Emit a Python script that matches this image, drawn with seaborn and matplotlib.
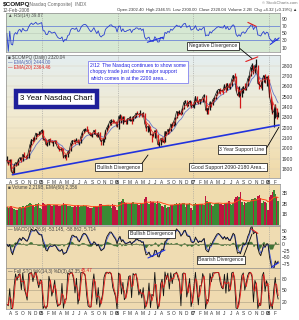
import numpy as np
import pandas as pd
import matplotlib
matplotlib.use('Agg')
import matplotlib.pyplot as plt
from matplotlib.lines import Line2D
import seaborn as sns

W, H = 299, 320

# weekly Nasdaq Composite bars, Jul 2004 - Feb 2008
close = [1883, 1849, 1887, 1777, 1757, 1838, 1862, 1844, 1894, 1910, 1879, 1942, 1919, 1911, 1915, 1975,
         2038, 2085, 2070, 2102, 2148, 2129, 2135, 2154, 2175,
         2088, 2087, 2034, 2035, 2086, 2076, 2058, 2065, 2071, 2041, 2007, 1990, 1985, 1999, 1909, 1932,
         1921, 1967, 1977, 2046, 2075, 2071, 2064, 2090, 2053, 2057, 2112, 2156, 2179, 2185, 2177, 2157,
         2136, 2120, 2141, 2175, 2146, 2116, 2151, 2090, 2064, 2082, 2089, 2169, 2202, 2227, 2263, 2273,
         2257, 2253, 2250, 2205,
         2305, 2317, 2247, 2304, 2262, 2261, 2282, 2287, 2302, 2262, 2306, 2312, 2340, 2339, 2326, 2342,
         2323, 2343, 2243, 2193, 2210, 2219, 2135, 2129, 2121, 2172, 2130, 2037, 2039, 2094, 2086, 2057,
         2163, 2141, 2184, 2165, 2236, 2218, 2258, 2299, 2357, 2342, 2351, 2330, 2390, 2445, 2460, 2413,
         2438, 2457, 2401, 2415,
         2434, 2502, 2451, 2435, 2475, 2459, 2496, 2515, 2368, 2387, 2372, 2448, 2421, 2471, 2491, 2526,
         2557, 2572, 2562, 2559, 2557, 2613, 2573, 2626, 2588, 2603, 2666, 2707, 2688, 2562, 2511, 2544,
         2505, 2577, 2596, 2566, 2602, 2671, 2701, 2780, 2806, 2726, 2804, 2810, 2627, 2619, 2596, 2661,
         2706, 2636, 2691, 2674,
         2504, 2440, 2340, 2360, 2414, 2304, 2320]
high = [1930, 1890, 1892, 1895, 1795, 1845, 1870, 1870, 1900, 1915, 1915, 1945, 1960, 1935, 1940, 1980,
        2045, 2090, 2105, 2105, 2150, 2150, 2165, 2160, 2190,
        2180, 2100, 2095, 2060, 2090, 2100, 2085, 2070, 2080, 2085, 2040, 2010, 2010, 2005, 2000, 1950,
        1935, 1970, 1985, 2050, 2080, 2095, 2080, 2100, 2095, 2070, 2115, 2160, 2185, 2195, 2220, 2185,
        2160, 2145, 2150, 2180, 2185, 2150, 2155, 2160, 2095, 2100, 2100, 2175, 2205, 2235, 2265, 2280,
        2280, 2275, 2260, 2255,
        2310, 2330, 2325, 2310, 2315, 2275, 2290, 2295, 2310, 2300, 2310, 2320, 2345, 2360, 2340, 2375,
        2345, 2350, 2345, 2245, 2215, 2225, 2220, 2145, 2145, 2175, 2190, 2135, 2065, 2100, 2105, 2095,
        2165, 2165, 2190, 2195, 2240, 2250, 2265, 2305, 2360, 2365, 2375, 2365, 2395, 2450, 2470, 2465,
        2450, 2470, 2460, 2430,
        2455, 2505, 2505, 2465, 2480, 2480, 2500, 2530, 2520, 2395, 2400, 2455, 2450, 2475, 2495, 2530,
        2560, 2575, 2580, 2575, 2565, 2620, 2630, 2630, 2635, 2615, 2670, 2710, 2725, 2695, 2590, 2600,
        2560, 2580, 2605, 2630, 2605, 2685, 2705, 2785, 2830, 2810, 2810, 2861, 2810, 2655, 2640, 2675,
        2710, 2720, 2695, 2710,
        2670, 2505, 2455, 2390, 2425, 2395, 2347]
low = [1875, 1840, 1835, 1776, 1750, 1760, 1830, 1838, 1840, 1885, 1870, 1875, 1915, 1900, 1905, 1910,
       1975, 2030, 2065, 2070, 2095, 2115, 2130, 2135, 2150,
       2085, 2075, 2030, 2025, 2035, 2065, 2050, 2025, 2050, 2040, 2000, 1975, 1975, 1980, 1905, 1905,
       1890, 1915, 1955, 1975, 2040, 2065, 2045, 2060, 2050, 2035, 2050, 2110, 2150, 2165, 2170, 2150,
       2130, 2115, 2105, 2140, 2140, 2105, 2110, 2085, 2035, 2030, 2060, 2090, 2165, 2195, 2225, 2230,
       2245, 2245, 2235, 2205,
       2190, 2295, 2245, 2240, 2255, 2235, 2240, 2270, 2265, 2240, 2260, 2295, 2305, 2330, 2305, 2320,
       2300, 2315, 2240, 2170, 2160, 2165, 2130, 2065, 2110, 2100, 2125, 2035, 2012, 2030, 2060, 2050,
       2060, 2130, 2135, 2150, 2165, 2205, 2215, 2230, 2290, 2325, 2335, 2325, 2330, 2385, 2440, 2400,
       2410, 2430, 2395, 2400,
       2390, 2425, 2445, 2425, 2430, 2455, 2450, 2495, 2365, 2335, 2330, 2370, 2400, 2415, 2455, 2480,
       2515, 2540, 2530, 2545, 2530, 2560, 2545, 2565, 2585, 2575, 2600, 2655, 2680, 2555, 2505, 2500,
       2386, 2500, 2540, 2560, 2560, 2600, 2665, 2700, 2770, 2720, 2725, 2780, 2620, 2570, 2580, 2560,
       2640, 2630, 2600, 2665,
       2500, 2380, 2335, 2202, 2290, 2280, 2300]
volume = [1.7, 1.6, 1.7, 1.8, 1.6, 1.5, 1.4, 1.4, 1.6, 1.7, 1.6, 1.8, 1.7, 1.8, 1.9, 2.0, 2.1, 2.0, 1.9,
          1.7, 2.0, 2.0, 2.1, 1.6, 1.5,
          2.1, 2.0, 1.9, 2.0, 2.0, 1.9, 1.8, 1.9, 1.9, 1.9, 1.9, 1.8, 1.8, 1.9, 2.1, 2.0, 1.9, 1.8, 1.8,
          1.8, 1.7, 1.7, 1.8, 1.7, 1.9, 1.7, 1.8, 1.8, 1.9, 1.8, 1.8, 1.7, 1.6, 1.6, 1.6, 1.8, 1.8, 1.7,
          1.8, 2.0, 2.0, 1.9, 1.8, 1.9, 1.9, 1.9, 1.8, 1.6, 2.0, 1.9, 1.7, 1.4,
          2.2, 2.2, 2.3, 2.4, 2.2, 2.1, 2.0, 2.0, 2.0, 2.1, 2.2, 2.0, 2.0, 2.0, 1.9, 2.1, 2.0, 2.0, 2.4,
          2.6, 2.1, 2.0, 2.3, 2.2, 2.2, 2.1, 2.0, 2.3, 2.1, 2.0, 1.8, 1.7, 1.9, 1.6, 1.7, 1.7, 1.9, 1.9,
          1.9, 2.0, 2.1, 2.0, 2.1, 2.0, 2.1, 2.1, 1.7, 2.0, 2.0, 2.1, 1.6, 1.4,
          2.0, 2.1, 2.0, 2.0, 2.0, 2.0, 2.0, 1.9, 2.7, 2.3, 2.2, 2.1, 1.9, 1.8, 2.0, 2.1, 2.1, 2.1, 2.0,
          2.0, 1.9, 2.1, 2.1, 2.1, 2.3, 2.0, 1.9, 2.1, 2.4, 2.6, 2.7, 2.6, 3.1, 2.2, 1.9, 2.2, 2.1, 2.2,
          2.2, 2.3, 2.4, 2.4, 2.5, 2.4, 2.7, 2.8, 2.5, 2.1, 2.3, 2.2, 2.1, 1.4,
          2.6, 2.8, 3.1, 3.3, 2.9, 2.6, 2.3]

month_letters = ['J', 'F', 'M', 'A', 'M', 'J', 'J', 'A', 'S', 'O', 'N', 'D']

# hand drawn trend lines (date, value)
support_dates = ['2004-08-12', '2008-02-20']
support_vals = [1745, 2225]
price_neg_dates = ['2007-09-12', '2007-11-09']
price_neg_vals = [2840, 2885]
rsi_neg_dates = ['2007-09-22', '2007-11-01']
rsi_neg_vals = [80, 69]
rsi_bull_a_dates = ['2006-05-25', '2006-08-10']
rsi_bull_a_vals = [25, 39]
rsi_bull_b_dates = ['2008-01-08', '2008-02-20']
rsi_bull_b_vals = [19, 37]
macd_bull_a_dates = ['2006-05-28', '2006-08-18']
macd_bull_a_vals = [-52, -22]
macd_bull_b_dates = ['2008-01-13', '2008-02-18']
macd_bull_b_vals = [-87, -70]
macd_bear_dates = ['2007-10-09', '2007-11-09']
macd_bear_vals = [58, 41]

dates = pd.date_range('2004-07-16', periods=len(close), freq='W-FRI')
df = pd.DataFrame({'date': dates, 'close': close, 'high': high, 'low': low, 'volume': volume})

# indicators (weekly equivalents of the daily settings)
df['ema20'] = df['close'].ewm(span=4, adjust=False).mean()
df['ema50'] = df['close'].ewm(span=10, adjust=False).mean()
delta = df['close'].diff().fillna(0)
gain = delta.clip(lower=0).ewm(alpha=1 / 9, adjust=False).mean()
loss = (-delta.clip(upper=0)).ewm(alpha=1 / 9, adjust=False).mean()
df['rsi'] = 100 - 100 / (1 + gain / loss.replace(0, np.nan))
df['rsi'] = df['rsi'].fillna(50)
df['macd'] = df['close'].ewm(span=2.8, adjust=False).mean() - df['close'].ewm(span=7, adjust=False).mean()
df['signal'] = df['macd'].ewm(span=2.2, adjust=False).mean()
df['hist'] = df['macd'] - df['signal']
hh = df['high'].rolling(3, min_periods=1).max()
ll = df['low'].rolling(3, min_periods=1).min()
df['k'] = 100 * (df['close'] - ll) / (hh - ll)
df['d'] = df['k'].rolling(2, min_periods=1).mean()
df['vol_ema'] = df['volume'].ewm(span=12, adjust=False).mean()
up = df['close'].diff().fillna(0) >= 0

sns.set_theme(style='white')
plt.rcParams['font.family'] = ['Liberation Sans', 'DejaVu Sans']

fig = plt.figure(figsize=(W / 100, H / 100), dpi=100)
fig.patch.set_facecolor('white')


def panel(x0, y0, x1, y1):
    return fig.add_axes([x0 / W, 1 - y1 / H, (x1 - x0) / W, (y1 - y0) / H])


def ftext(x, y, s, **kw):
    kw.setdefault('va', 'center')
    return fig.text(x / W, 1 - y / H, s, **kw)


def pointer(x0, y0, x1, y1):
    fig.add_artist(Line2D([x0 / W, x1 / W], [1 - y0 / H, 1 - y1 / H], color='black', lw=0.6))


ax_rsi = panel(6, 13, 280, 52)
ax_px = panel(6, 55, 280, 178)
ax_vol = panel(6, 184, 280, 225)
ax_macd = panel(6, 226, 280, 268)
ax_sto = panel(6, 268, 280, 309)
axes = [ax_rsi, ax_px, ax_vol, ax_macd, ax_sto]

xmin, xmax = pd.Timestamp('2004-07-12'), pd.Timestamp('2008-02-24')
month_ticks = pd.date_range('2004-08-01', '2008-02-01', freq='MS')
year_ticks = [d for d in month_ticks if d.month == 1]
tick_labels = [('%02d' % (d.year % 100)) if d.month == 1 else month_letters[d.month - 1] for d in month_ticks]

for ax, bg in zip(axes, ['#d6e8d3', 'none', '#efdcae', '#efdcb2', '#efdab0']):
    ax.set_facecolor(bg)
    ax.set_xlim(xmin, xmax)
    for s in ax.spines.values():
        s.set_color('#8c8c8c')
        s.set_linewidth(0.5)
    ax.yaxis.tick_right()
    ax.tick_params(axis='y', labelsize=3.6, length=0, pad=1.5, colors='#333333')
    ax.set_xticks(month_ticks)
    ax.tick_params(axis='x', length=0, labelbottom=False)
    for d in year_ticks:
        ax.axvline(d, color='#9a9a9a', lw=0.4, ls=(0, (2, 2)), zorder=0.5)

# price panel gradient
grad = np.linspace(0, 1, 100).reshape(-1, 1)
cmap = matplotlib.colors.LinearSegmentedColormap.from_list('bg', ['#e4eef0', '#f2ead0', '#f0d9a6'])
ax_px.imshow(grad, extent=[0, 1, 0, 1], transform=ax_px.transAxes, cmap=cmap, aspect='auto', zorder=0)

# RSI
ax_rsi.set_ylim(-2, 106)
ax_rsi.set_yticks([10, 30, 50, 70, 90])
ax_rsi.axhline(70, color='#6f86d6', lw=0.6)
ax_rsi.axhline(30, color='#6f86d6', lw=0.6)
ax_rsi.axhline(50, color='#b8c8b8', lw=0.4)
sns.lineplot(data=df, x='date', y='rsi', ax=ax_rsi, color='#2b3fd0', lw=0.6, estimator=None)
sns.lineplot(x=pd.to_datetime(rsi_neg_dates), y=rsi_neg_vals, ax=ax_rsi, color='#e02020', lw=0.8)
sns.lineplot(x=pd.to_datetime(rsi_bull_a_dates), y=rsi_bull_a_vals, ax=ax_rsi, color='#2030e0', lw=0.8)
sns.lineplot(x=pd.to_datetime(rsi_bull_b_dates), y=rsi_bull_b_vals, ax=ax_rsi, color='#2030e0', lw=0.8)

# price
ax_px.set_ylim(1713, 2903)
ax_px.set_yticks(range(1800, 2900, 100))
ax_px.grid(axis='y', color='#d8d0b8', lw=0.3)
sns.lineplot(data=df, x='date', y='ema50', ax=ax_px, color='#6a78c8', lw=0.6, estimator=None)
bar_cols = np.where(up, '#111111', '#d21a1a')
ax_px.vlines(df['date'], df['low'], df['high'], colors=bar_cols, lw=0.9, zorder=3)
sns.lineplot(data=df, x='date', y='close', ax=ax_px, color='#111111', lw=0.5, estimator=None, zorder=3)
sns.lineplot(data=df, x='date', y='ema20', ax=ax_px, color='#e03030', lw=0.55, estimator=None, zorder=4)
sns.lineplot(x=pd.to_datetime(support_dates), y=support_vals, ax=ax_px, color='#2233dd', lw=1.2, zorder=5)
sns.lineplot(x=pd.to_datetime(price_neg_dates), y=price_neg_vals, ax=ax_px, color='#e02020', lw=0.8, zorder=5)
ax_px.set_xticklabels(tick_labels)
ax_px.tick_params(axis='x', labelbottom=True, labelsize=3.4, pad=1.2, colors='#333333')

# volume
ax_vol.set_ylim(0, 3.85)
ax_vol.set_yticks([1, 2, 3])
ax_vol.set_yticklabels(['1B', '2B', '3B'])
ax_vol.bar(df['date'], df['volume'], width=7, color=np.where(up, '#3a8a34', '#c01440'), lw=0)
sns.lineplot(data=df, x='date', y='vol_ema', ax=ax_vol, color='#ff4a1a', lw=0.7, estimator=None)

# MACD
ax_macd.set_ylim(-90, 69)
ax_macd.set_yticks([-75, -50, -25, 0, 25, 50])
ax_macd.axhline(0, color='#a09070', lw=0.4)
ax_macd.fill_between(df['date'], 0, df['hist'], color='#2f6a2a', lw=0.3, alpha=0.9)
sns.lineplot(data=df, x='date', y='signal', ax=ax_macd, color='#3f56e0', lw=0.6, estimator=None)
sns.lineplot(data=df, x='date', y='macd', ax=ax_macd, color='#111111', lw=0.6, estimator=None)
sns.lineplot(x=pd.to_datetime(macd_bull_a_dates), y=macd_bull_a_vals, ax=ax_macd, color='#2030e0', lw=0.8)
sns.lineplot(x=pd.to_datetime(macd_bull_b_dates), y=macd_bull_b_vals, ax=ax_macd, color='#2030e0', lw=0.8)
sns.lineplot(x=pd.to_datetime(macd_bear_dates), y=macd_bear_vals, ax=ax_macd, color='#e02020', lw=0.8)

# Stochastics
ax_sto.set_ylim(1.7, 108.7)
ax_sto.set_yticks([20, 50, 80])
for v in [20, 50, 80]:
    ax_sto.axhline(v, color='#a89c80', lw=0.4)
sns.lineplot(data=df, x='date', y='k', ax=ax_sto, color='#111111', lw=0.6, estimator=None)
sns.lineplot(data=df, x='date', y='d', ax=ax_sto, color='#e01818', lw=0.6, estimator=None)
ax_sto.set_xticklabels(tick_labels)
ax_sto.tick_params(axis='x', labelbottom=True, labelsize=3.4, pad=1.2, colors='#333333')

for ax in [ax_px, ax_sto]:
    for lab, d in zip(ax.get_xticklabels(), month_ticks):
        if d.month == 1:
            lab.set_fontweight('bold')
for ax in axes:
    ax.set_xlabel('')
    ax.set_ylabel('')

# header
ftext(3, 4.5, '$COMPQ', fontsize=4.6, fontweight='bold', color='#111111')
ftext(28, 4.5, '(Nasdaq Composite)  INDX', fontsize=3.4, color='#666666')
ftext(297, 3.5, '© StockCharts.com', fontsize=3.0, color='#777777', ha='right')
ftext(3, 10.5, '12-Feb-2008', fontsize=3.4, color='#555555')
ftext(297, 10.5, 'Open 2302.40  High 2346.55  Low 2300.00  Close 2320.04  Volume 2.2B  Chg +4.32 (+0.19%) ▲',
      fontsize=3.1, color='#333333', ha='right')

# panel legends
ftext(8, 16, '▲ RSI(14) 39.87', fontsize=3.3, color='#555555')
ftext(8, 58, '■ $COMPQ (Daily) 2320.04', fontsize=3.3, color='#444444')
ftext(8, 62.5, '— EMA(50) 2444.00', fontsize=3.3, color='#5060b0')
ftext(8, 67, '— EMA(20) 2364.46', fontsize=3.3, color='#e02020')
ftext(8, 187.5, '■ Volume 2,219B, EMA(60) 2,356', fontsize=3.3, color='#444444')
ftext(8, 229.5, '— MACD(12,26,9) -53.145, -58.862, 5.714', fontsize=3.3, color='#444444')
ftext(8, 271, '— Full STO %K(14,3) %D(3) 47.35,', fontsize=3.3, color='#444444')
ftext(81, 271, '45.47', fontsize=3.3, color='#e02020')

# annotations
box = dict(boxstyle='square,pad=0.3', fc='white', ec='black', lw=0.5)
ftext(213, 46, 'Negative Divergence', fontsize=3.7, ha='center', bbox=box)
pointer(238, 47, 252, 58.5)
ftext(118.5, 167, 'Bullish Divergence', fontsize=3.7, ha='center', bbox=box)
pointer(140, 166, 148, 155)
ftext(242, 149.5, '3 Year Support Line', fontsize=3.7, ha='center', bbox=box)
pointer(266, 149, 279, 127)
ftext(228, 167, 'Good Support 2090-2180 Area...', fontsize=3.7, ha='center', bbox=box)
ftext(151.5, 234, 'Bullish Divergence', fontsize=3.7, ha='center', bbox=box)
ftext(221, 260, 'Bearish Divergence', fontsize=3.7, ha='center', bbox=box)
pointer(243, 258, 252, 234)
ftext(56.5, 99, '3 Year Nasdaq Chart', fontsize=5.6, ha='center', color='black',
      bbox=dict(boxstyle='square,pad=0.55', fc='white', ec='#1f1f9a', lw=3.2))
ftext(90, 72, '2/12  The Nasdaq continues to show some\nchoppy trade just above major support\n'
      'which comes in at the 2200 area...', fontsize=3.6, color='#1c1ce0', ha='left', linespacing=1.35,
      bbox=dict(boxstyle='square,pad=0.35', fc='white', ec='#6c6cf0', lw=0.5))

fig.savefig('out.png', dpi=100, facecolor='white')
